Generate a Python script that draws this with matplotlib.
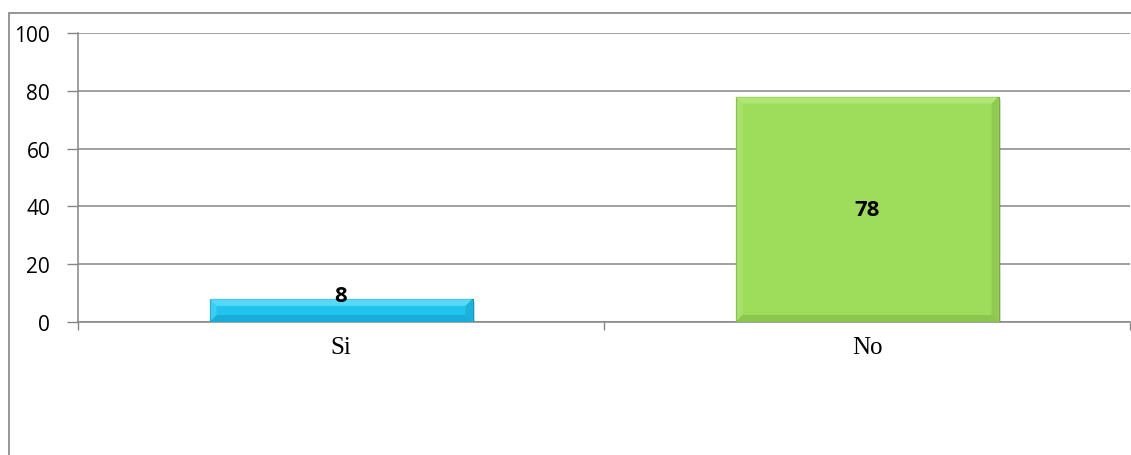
import numpy as np
import matplotlib.pyplot as plt
import matplotlib.patheffects as pe
from matplotlib.patches import Polygon, Rectangle

# data
categories = ['Si', 'No']
values = [8, 78]
face_colors = ['#21c4ef', '#9edc5b']
light_colors = ['#79e8ff', '#bdf08a']
dark_colors = ['#0f94c0', '#74ad3f']
yticks = [0, 20, 40, 60, 80, 100]

W, H, DPI = 1131, 456, 100
GRID = '#868686'

fig = plt.figure(figsize=(W / DPI, H / DPI), dpi=DPI, facecolor='white')

# chart area frame (only the left and top edges fall inside the image)
fig.add_artist(Rectangle((8.5 / W, -0.1), 1.2, 1 - 13.5 / H + 0.1,
                         transform=fig.transFigure, fill=False,
                         edgecolor='#8c8c8c', linewidth=1.3))

ax = fig.add_axes([78 / W, 1 - 323 / H, (1130 - 78) / W, (323 - 34) / H])
x = np.arange(len(categories))
ax.set_xlim(-0.5, len(categories) - 0.5)
ax.set_ylim(0, 100)

bars = ax.bar(x, values, width=0.5, color=face_colors, zorder=3,
              edgecolor=dark_colors, linewidth=0.8)
for b in bars:
    b.set_path_effects([pe.SimplePatchShadow(offset=(2, -2), alpha=0.2,
                                             shadow_rgbFace='#555555'),
                        pe.Normal()])


def bevel(bar, light, dark, size=7):
    """Draw a bevelled frame inside a bar, size in pixels."""
    x0, y0 = bar.get_x(), bar.get_y()
    x1, y1 = x0 + bar.get_width(), y0 + bar.get_height()
    p = ax.transData.transform((x0, y0))
    dx, dy = ax.transData.inverted().transform(p + size) - np.array([x0, y0])
    dy = min(dy, bar.get_height() / 2.5)
    parts = [
        ([(x0, y1), (x1, y1), (x1 - dx, y1 - dy), (x0 + dx, y1 - dy)], light, 0.6),
        ([(x0, y0), (x1, y0), (x1 - dx, y0 + dy), (x0 + dx, y0 + dy)], dark, 0.45),
        ([(x1, y0), (x1, y1), (x1 - dx, y1 - dy), (x1 - dx, y0 + dy)], dark, 0.35),
        ([(x0, y0), (x0, y1), (x0 + dx, y1 - dy), (x0 + dx, y0 + dy)], light, 0.3),
    ]
    for verts, c, a in parts:
        ax.add_patch(Polygon(verts, closed=True, facecolor=c, edgecolor='none',
                             alpha=a, zorder=4))


for b, lc, dc in zip(bars, light_colors, dark_colors):
    bevel(b, lc, dc)

# value labels
for xi, v in zip(x, values):
    ly = v / 2 if v > 20 else v + 1
    ax.text(xi, ly, str(v), ha='center', va='center', fontsize=16,
            fontweight='bold', family='Open Sans', color='black', zorder=5)

ax.set_yticks(yticks)
ax.set_yticklabels([str(t) for t in yticks], family='Open Sans', fontsize=15)
ax.set_xticks(x)
ax.set_xticklabels(categories, family='Liberation Serif', fontsize=18)
ax.set_xticks([-0.5, 0.5, 1.5], minor=True)
ax.tick_params(axis='x', which='major', length=0, pad=10)
ax.tick_params(axis='x', which='minor', length=6, width=1, color=GRID)
ax.tick_params(axis='y', length=8, width=1, color=GRID, pad=12)

ax.grid(axis='y', color=GRID, linewidth=1.1, zorder=0)
ax.set_axisbelow(True)
for s in ['top', 'right']:
    ax.spines[s].set_visible(False)
for s in ['left', 'bottom']:
    ax.spines[s].set_color(GRID)
    ax.spines[s].set_linewidth(1.1)

fig.savefig('out.png', dpi=DPI)
